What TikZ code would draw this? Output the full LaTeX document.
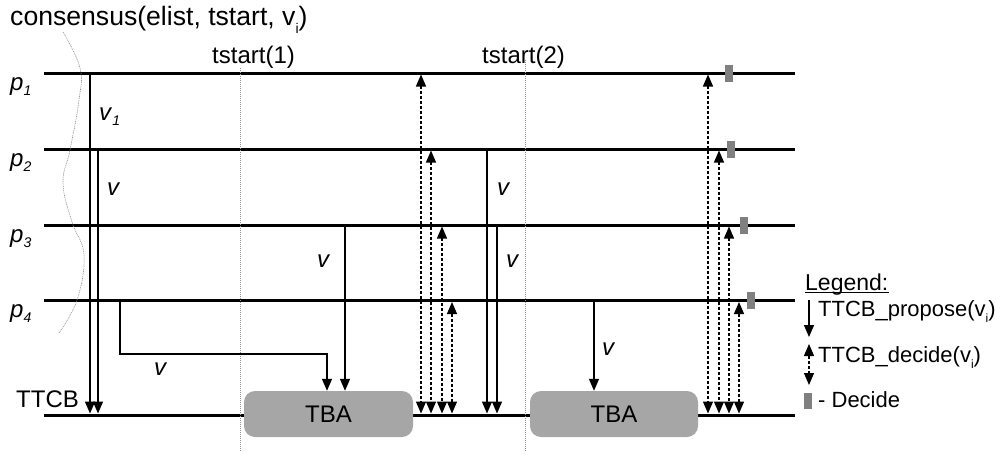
\documentclass[tikz,border=0pt]{standalone}
\usepackage{fontspec}
\setmainfont{Liberation Sans}
\usetikzlibrary{arrows.meta}
\definecolor{tbagray}{HTML}{A6A6A6}
\definecolor{markgray}{HTML}{808080}
\definecolor{guidegray}{HTML}{909090}
\newcommand\lsub[1]{\raisebox{-5pt}{\fontsize{14}{14}\selectfont #1}}
\begin{document}
\begin{tikzpicture}[x=1pt,y=-1pt,
  lane/.style={line width=3pt},
  tipx/.tip={Triangle[width=10pt,length=12pt]},
  prop/.style={line width=1.4pt,-tipx},
  dec/.style={line width=1.3pt,dash pattern=on 3pt off 2pt,tipx-tipx},
  guide/.style={guidegray,line width=0.8pt,dash pattern=on 1pt off 1pt},
  tba/.style={fill=tbagray,rounded corners=11pt,minimum width=169pt,minimum height=46pt,inner sep=0pt,font=\fontsize{24}{28}\selectfont},
  decmark/.style={fill=markgray,minimum width=8pt,minimum height=17pt,inner sep=0pt},
  lbl/.style={font=\fontsize{24}{28}\selectfont,inner sep=0pt,anchor=base west},
  leglbl/.style={font=\fontsize{22}{26}\selectfont,inner sep=0pt,anchor=base west},
]
\useasboundingbox (0,0) rectangle (996,455);

% lanes
\foreach \n/\y in {p1/73,p2/149,p3/225,p4/300.5,tt/415}{
  \coordinate (\n w) at (44,\y);
  \coordinate (\n e) at (795,\y);
  \draw[lane] (\n w) -- (\n e);
}
\coordinate (ttop) at (0,413.5);

% time guides
\coordinate (g1t) at (240,68);  \coordinate (g1b) at (240,452);
\coordinate (g2t) at (525,60);  \coordinate (g2b) at (525,452);
\draw[guide] (g1t) -- (g1b);
\draw[guide] (g2t) -- (g2b);

% wavy start line
\draw[guidegray,line width=0.6pt,dash pattern=on 1pt off 0.8pt] plot[smooth,tension=0.7] coordinates
  {(63,32) (80,68) (79,100) (70,150) (63,183) (72,222) (84,255) (77,300) (59,333)};

% TBA boxes
\node[tba] (tba1) at (328.5,414) {TBA};
\node[tba,minimum width=168pt] (tba2) at (614,414) {TBA};

% labels
\node[font=\fontsize{26.6}{30}\selectfont,inner sep=0pt,anchor=base west] (cons) at (10,25) {consensus(elist, tstart, v\raisebox{-8pt}{\fontsize{14}{14}\selectfont i})};
\node[lbl] (ts1) at (212,63) {tstart(1)};
\node[lbl] (ts2) at (482,63) {tstart(2)};
\node[lbl] (l1) at (10,90) {\textit{p}\lsub{\textit{1}}};
\node[lbl] (l2) at (10,166) {\textit{p}\lsub{\textit{2}}};
\node[lbl] (l3) at (10,242) {\textit{p}\lsub{\textit{3}}};
\node[lbl] (l4) at (10,317) {\textit{p}\lsub{\textit{4}}};
\node[lbl] (lt) at (16,407) {TTCB};

% propose arrows to TTCB line
\foreach \n/\x/\y in {a/90/73,b/98/149,c/487/149,d/497/225}{
  \coordinate (\n s) at (\x,\y);
  \draw[prop] (\n s) -- (\n s |- ttop);
}
% propose arrows into TBA
\coordinate (es) at (345,225);
\draw[prop] (es) -- (es |- tba1.north);
\coordinate (fs) at (594,300.5);
\draw[prop] (fs) -- (fs |- tba2.north);
\coordinate (hs) at (120,300.5);
\coordinate (hm) at (120,354);
\coordinate (hk) at (327,354);
\draw[prop] (hs) -- (hm) -- (hk) -- (hk |- tba1.north);

% v labels
\node[lbl] (v1) at (99,120) {\textit{v}\lsub{\textit{1}}};
\node[lbl] (v2) at (107,195) {\textit{v}};
\node[lbl] (v3) at (317,267) {\textit{v}};
\node[lbl] (v4) at (154,375) {\textit{v}};
\node[lbl] (v5) at (497,195) {\textit{v}};
\node[lbl] (v6) at (506,267) {\textit{v}};
\node[lbl] (v7) at (602,355) {\textit{v}};

% decide arrows
\foreach \n/\x/\y in {q1/421/74.5,q2/431/150.5,q3/442/226.5,q4/452/302,
                      r1/708/74.5,r2/719/150.5,r3/729/226.5,r4/739/302}{
  \coordinate (\n s) at (\x,\y);
  \draw[dec] (\n s) -- (\n s |- ttop);
}

% decide marks
\node[decmark] (m1) at (729,73) {};
\node[decmark] (m2) at (731,149) {};
\node[decmark] (m3) at (744,225) {};
\node[decmark] (m4) at (751,300.5) {};

% legend
\node[font=\fontsize{23}{27}\selectfont,inner sep=0pt,anchor=base west] (leg) at (805,290) {Legend:};
\draw[line width=1.2pt] ([yshift=-2.5pt]leg.base west) -- ([yshift=-2.5pt]leg.base east);
\coordinate (lp1) at (809,300); \coordinate (lp2) at (809,337);
\draw[prop] (lp1) -- (lp2);
\node[leglbl] (lpt) at (818,316) {TTCB\_propose(v\raisebox{-6pt}{\fontsize{12}{12}\selectfont i})};
\coordinate (ld1) at (809,344); \coordinate (ld2) at (809,385);
\draw[dec] (ld1) -- (ld2);
\node[leglbl] (ldt) at (818,362) {TTCB\_decide(v\raisebox{-6pt}{\fontsize{12}{12}\selectfont i})};
\node[decmark,minimum height=16pt] (lm) at (808,400.5) {};
\node[leglbl] (lmt) at (818,407) {- Decide};
\end{tikzpicture}
\end{document}
